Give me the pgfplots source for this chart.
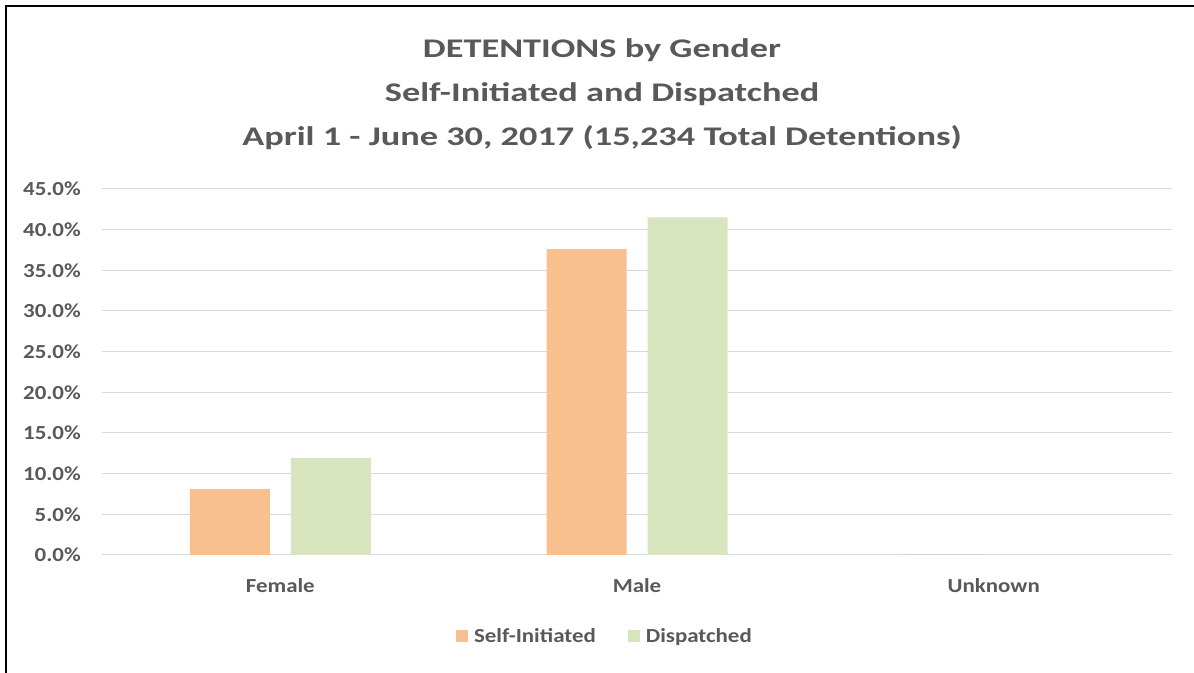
\documentclass[border=0pt]{standalone}
\usepackage{fontspec}
\setmainfont{Carlito}
\newfontfamily\tfont[FakeStretch=1.35]{Carlito}
\newfontfamily\lfont[FakeStretch=1.15]{Carlito}
\usepackage{pgfplots}
\pgfplotsset{compat=1.18}
\definecolor{txt}{HTML}{595959}
\definecolor{gridc}{HTML}{D9D9D9}
\definecolor{orng}{HTML}{F8BF8F}
\definecolor{grn}{HTML}{D7E4BD}
\begin{document}
\begin{tikzpicture}[x=1bp,y=1bp]
\path[use as bounding box] (0,0) rectangle (1194,673);
\draw[line width=2.5bp, black] (6,0) -- (6,667) -- (1194,667);
\node[font=\tfont\bfseries\fontsize{27}{31}\selectfont, text=txt] at (602,623) {DETENTIONS by Gender};
\node[font=\tfont\bfseries\fontsize{27}{31}\selectfont, text=txt] at (602,579) {Self-Initiated and Dispatched};
\node[font=\tfont\bfseries\fontsize{27}{31}\selectfont, text=txt] at (602,535) {April 1 - June 30, 2017 (15,234 Total Detentions)};
\begin{axis}[
  at={(102bp,118bp)}, anchor=south west,
  scale only axis, width=1070bp, height=366bp,
  xmin=-0.5, xmax=2.5, ymin=0, ymax=45,
  ybar=21bp, bar width=80bp,
  xtick={0,1,2}, xticklabels={Female,Male,Unknown},
  ytick={0,5,...,45},
  yticklabel={\pgfmathprintnumber[fixed,fixed zerofill,precision=1,assume math mode=true]{\tick}\%},
  ymajorgrids, grid style={draw=gridc, line width=1bp},
  axis line style={draw=none},
  major tick length=0pt,
  tick label style={font=\lfont\bfseries\fontsize{20}{24}\selectfont, text=txt, inner sep=0pt},
  yticklabel style={anchor=east, xshift=-21bp},
  xticklabel style={anchor=center, yshift=-31bp},
  legend style={at={(0.47,-0.221)}, anchor=center, legend columns=2, draw=none, fill=none,
    font=\lfont\bfseries\fontsize{20}{24}\selectfont, text=txt,
    /tikz/every odd column/.append style={column sep=4bp},
    /tikz/every even column/.append style={column sep=30bp}},
  legend image code/.code={\fill[#1] (0bp,-6bp) rectangle (12bp,6bp);},
]
\addplot[fill=orng, draw=none] coordinates {(0,8.1) (1,37.6) (2,0)};
\addplot[fill=grn, draw=none] coordinates {(0,11.9) (1,41.5) (2,0)};
\legend{Self-Initiated, Dispatched}
\end{axis}
\end{tikzpicture}
\end{document}
